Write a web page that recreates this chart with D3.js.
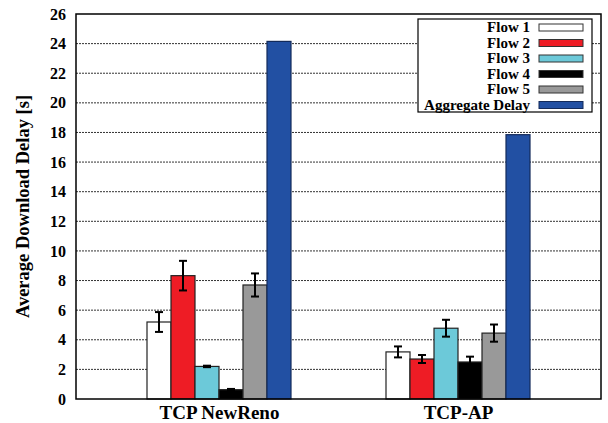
<!DOCTYPE html>
<html>
<head>
<meta charset="utf-8">
<script src="https://cdn.jsdelivr.net/npm/d3@7"></script>
<style>
  body { margin: 0; background: #fff; }
</style>
</head>
<body>
<svg width="608" height="423"></svg>
<script>
// data
let groups = ["TCP NewReno", "TCP-AP"];
let flows = ["Flow 1", "Flow 2", "Flow 3", "Flow 4", "Flow 5", "Aggregate Delay"];
let colors = ["#ffffff", "#ee1c25", "#6cc9d9", "#000000", "#999999", "#2250a3"];
let newRenoValues = [5.2, 8.33, 2.2, 0.63, 7.7, 24.15];
let newRenoErrors = [0.67, 1.0, 0.05, 0.05, 0.78, 0];
let tcpApValues = [3.18, 2.7, 4.78, 2.5, 4.45, 17.85];
let tcpApErrors = [0.37, 0.27, 0.57, 0.36, 0.58, 0];
let yTicks = d3.range(0, 27, 2);

const FONT = "'Liberation Serif', 'Times New Roman', serif";

let svg = d3.select("svg");
let margin = {left: 76, top: 14, right: 7, bottom: 24};
let width = 608 - margin.left - margin.right,
    height = 423 - margin.top - margin.bottom;

let g = svg.append("g").attr("transform", "translate(" + margin.left + "," + margin.top + ")");

let y = d3.scaleLinear().domain([0, 26]).range([height, 0]);
// group centres are not symmetric in the original
let x = d3.scalePoint().domain(groups).range([143, 382]);
let xInner = d3.scaleBand().domain(flows).range([-72, 72]);

// grid
g.append("g")
    .selectAll("line")
    .data(yTicks.filter(d => d > 0 && d < 26))
    .enter().append("line")
    .attr("x1", 0).attr("x2", width)
    .attr("y1", d => y(d)).attr("y2", d => y(d))
    .attr("stroke", "#333")
    .attr("stroke-width", 1)
    .attr("stroke-dasharray", "2,1");

let rows = [];
groups.forEach(function (grp, gi) {
    let vals = gi === 0 ? newRenoValues : tcpApValues;
    let errs = gi === 0 ? newRenoErrors : tcpApErrors;
    flows.forEach(function (f, i) {
        rows.push({group: grp, flow: f, value: vals[i], err: errs[i], color: colors[i], idx: i});
    });
});

// bars
g.append("g")
    .selectAll("rect")
    .data(rows)
    .enter().append("rect")
    .attr("x", d => x(d.group) + xInner(d.flow))
    .attr("y", d => y(d.value))
    .attr("width", xInner.bandwidth())
    .attr("height", d => height - y(d.value))
    .attr("fill", d => d.color)
    .attr("stroke", d => d.idx === 5 ? "#132a5a" : "#222")
    .attr("stroke-width", 1.2);

// error bars
let eb = g.append("g")
    .selectAll("g")
    .data(rows.filter(d => d.err > 0))
    .enter().append("g")
    .attr("stroke", "#000")
    .attr("stroke-width", 2);

let cx = d => x(d.group) + xInner(d.flow) + xInner.bandwidth() / 2;
eb.append("line")
    .attr("x1", cx).attr("x2", cx)
    .attr("y1", d => y(d.value + d.err))
    .attr("y2", d => y(d.value - d.err));
eb.append("line")
    .attr("x1", d => cx(d) - 4).attr("x2", d => cx(d) + 4)
    .attr("y1", d => y(d.value + d.err))
    .attr("y2", d => y(d.value + d.err));
eb.append("line")
    .attr("x1", d => cx(d) - 4).attr("x2", d => cx(d) + 4)
    .attr("y1", d => y(d.value - d.err))
    .attr("y2", d => y(d.value - d.err));

// frame
g.append("rect")
    .attr("x", 0).attr("y", 0)
    .attr("width", width).attr("height", height)
    .attr("fill", "none")
    .attr("stroke", "#000")
    .attr("stroke-width", 1.5);

// y axis
let yAxis = g.append("g")
    .call(d3.axisLeft(y).tickValues(yTicks).tickSize(0).tickPadding(10));
yAxis.select(".domain").remove();
yAxis.selectAll("text")
    .style("font-family", FONT)
    .style("font-weight", "bold")
    .style("font-size", "16px")
    .attr("fill", "#000");

// x axis
let xAxis = g.append("g")
    .attr("transform", "translate(0," + height + ")")
    .call(d3.axisBottom(x).tickSize(0).tickPadding(7));
xAxis.select(".domain").remove();
xAxis.selectAll("text")
    .style("font-family", FONT)
    .style("font-weight", "bold")
    .style("font-size", "19px")
    .attr("fill", "#000");

// y title
svg.append("text")
    .attr("transform", "translate(29," + (margin.top + height / 2) + ") rotate(-90)")
    .attr("text-anchor", "middle")
    .style("font-family", FONT)
    .style("font-weight", "bold")
    .style("font-size", "18.5px")
    .text("Average Download Delay [s]");

// legend
let legend = svg.append("g").attr("transform", "translate(418,19)");
legend.append("rect")
    .attr("width", 174).attr("height", 93)
    .attr("fill", "#fff")
    .attr("stroke", "#000")
    .attr("stroke-width", 1.2);

let item = legend.selectAll(".item")
    .data(flows)
    .enter().append("g")
    .attr("transform", (d, i) => "translate(0," + (8 + i * 15.5) + ")");
item.append("text")
    .attr("x", 112)
    .attr("y", 5)
    .attr("text-anchor", "end")
    .style("font-family", FONT)
    .style("font-weight", "bold")
    .style("font-size", "15px")
    .text(d => d);
item.append("rect")
    .attr("x", 121).attr("y", -3)
    .attr("width", 44).attr("height", 7)
    .attr("fill", (d, i) => colors[i])
    .attr("stroke", (d, i) => i === 5 ? "#132a5a" : "#333")
    .attr("stroke-width", 1);
</script>
</body>
</html>
